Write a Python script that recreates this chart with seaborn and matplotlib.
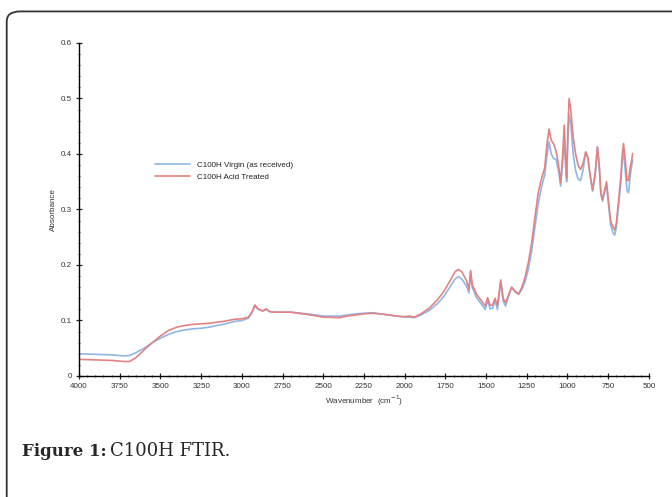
import numpy as np
import pandas as pd
import matplotlib
matplotlib.use("Agg")
import matplotlib.pyplot as plt
from matplotlib.patches import FancyBboxPatch
from matplotlib.ticker import MultipleLocator
import seaborn as sns

# wavenumber grid (cm-1)
wavenumber = [4000, 3900, 3800, 3720, 3690, 3650, 3600, 3550, 3500, 3450, 3400, 3350,
              3300, 3250, 3200, 3150, 3100, 3050, 3000, 2960, 2935, 2920, 2900, 2870,
              2850, 2830, 2800, 2700, 2600, 2500, 2400, 2350, 2300, 2250, 2200, 2150,
              2100, 2050, 2000, 1970, 1940, 1900, 1850, 1800, 1760, 1720, 1690, 1670,
              1650, 1620, 1605, 1595, 1585, 1560, 1530, 1505, 1490, 1475, 1460, 1445,
              1430, 1410, 1395, 1380, 1360, 1343, 1320, 1300, 1280, 1260, 1240, 1220,
              1200, 1180, 1160, 1140, 1125, 1113, 1100, 1085, 1070, 1055, 1042, 1030,
              1020, 1010, 1005, 998, 990, 980, 965, 950, 935, 920, 905, 888, 875, 860,
              846, 830, 816, 805, 795, 785, 772, 760, 750, 735, 720, 710, 700, 685,
              672, 663, 656, 645, 635, 625, 615, 605, 600]

# C100H Virgin (as received)
virgin = [0.040, 0.039, 0.038, 0.036, 0.037, 0.042, 0.050, 0.060, 0.068, 0.075, 0.080, 0.083,
          0.085, 0.086, 0.088, 0.091, 0.094, 0.098, 0.100, 0.104, 0.115, 0.126, 0.120, 0.117,
          0.120, 0.116, 0.115, 0.115, 0.112, 0.108, 0.108, 0.110, 0.112, 0.113, 0.114, 0.112,
          0.110, 0.108, 0.106, 0.106, 0.105, 0.110, 0.118, 0.130, 0.143, 0.161, 0.175, 0.179,
          0.175, 0.162, 0.150, 0.188, 0.160, 0.142, 0.130, 0.120, 0.137, 0.121, 0.122, 0.136,
          0.120, 0.170, 0.135, 0.126, 0.145, 0.160, 0.151, 0.147, 0.156, 0.170, 0.193, 0.225,
          0.268, 0.310, 0.340, 0.362, 0.400, 0.422, 0.400, 0.392, 0.390, 0.370, 0.342, 0.385,
          0.428, 0.370, 0.350, 0.420, 0.470, 0.455, 0.400, 0.370, 0.355, 0.352, 0.370, 0.402,
          0.393, 0.360, 0.333, 0.362, 0.412, 0.378, 0.328, 0.315, 0.332, 0.345, 0.315, 0.272,
          0.258, 0.254, 0.268, 0.310, 0.350, 0.390, 0.404, 0.370, 0.335, 0.330, 0.360, 0.380,
          0.389]

# C100H Acid Treated
acid = [0.030, 0.029, 0.028, 0.026, 0.026, 0.033, 0.047, 0.060, 0.072, 0.082, 0.088, 0.091,
        0.093, 0.094, 0.095, 0.097, 0.099, 0.102, 0.103, 0.106, 0.117, 0.128, 0.121, 0.117,
        0.121, 0.116, 0.115, 0.115, 0.111, 0.106, 0.105, 0.108, 0.110, 0.112, 0.113, 0.112,
        0.110, 0.108, 0.107, 0.108, 0.106, 0.112, 0.122, 0.137, 0.152, 0.172, 0.188, 0.192,
        0.188, 0.172, 0.156, 0.190, 0.165, 0.148, 0.136, 0.126, 0.141, 0.127, 0.128, 0.140,
        0.127, 0.173, 0.140, 0.132, 0.148, 0.160, 0.152, 0.148, 0.160, 0.178, 0.205, 0.240,
        0.285, 0.330, 0.355, 0.375, 0.420, 0.445, 0.425, 0.418, 0.405, 0.380, 0.348, 0.395,
        0.452, 0.380, 0.357, 0.440, 0.500, 0.480, 0.430, 0.400, 0.380, 0.372, 0.382, 0.404,
        0.395, 0.360, 0.335, 0.365, 0.413, 0.380, 0.330, 0.318, 0.335, 0.350, 0.320, 0.280,
        0.268, 0.263, 0.275, 0.320, 0.360, 0.400, 0.419, 0.390, 0.352, 0.353, 0.375, 0.390,
        0.401]

series_names = ["C100H Virgin (as received)", "C100H Acid Treated"]

df = pd.concat([
    pd.DataFrame({"wavenumber": wavenumber, "absorbance": virgin, "sample": series_names[0]}),
    pd.DataFrame({"wavenumber": wavenumber, "absorbance": acid, "sample": series_names[1]}),
])

sns.set_style("ticks")
plt.rcParams["font.family"] = ["Liberation Sans", "DejaVu Sans"]

fig = plt.figure(figsize=(6.72, 4.97), dpi=100)
ax = fig.add_axes([0.1176, 0.2435, 0.848, 0.670])

palette = {series_names[0]: "#8fb6e4", series_names[1]: "#e38282"}
sns.lineplot(data=df, x="wavenumber", y="absorbance", hue="sample", palette=palette,
             linewidth=1.2, sort=False, estimator=None, ax=ax)

ax.set_xlim(4000, 500)
ax.set_ylim(0, 0.6)
ax.xaxis.set_major_locator(MultipleLocator(250))
ax.xaxis.set_minor_locator(MultipleLocator(50))
ax.yaxis.set_major_locator(MultipleLocator(0.1))
ax.yaxis.set_minor_locator(MultipleLocator(0.02))
ax.yaxis.set_major_formatter(matplotlib.ticker.FuncFormatter(lambda v, p: "0" if v == 0 else f"{v:.1f}"))
ax.tick_params(which="major", direction="inout", length=4, width=0.9, labelsize=5.8,
               labelcolor="#333333", pad=3)
ax.tick_params(which="minor", direction="inout", length=2, width=0.6)
sns.despine(ax=ax)
for s in ["left", "bottom"]:
    ax.spines[s].set_linewidth(1.0)
    ax.spines[s].set_color("black")

ax.set_xlabel("Wavenumber  (cm$^{-1}$)", fontsize=5.8, color="#333333", labelpad=3)
ax.set_ylabel("Absorbance", fontsize=5.8, color="#333333", labelpad=3)

leg = ax.legend(loc="upper left", bbox_to_anchor=(0.133, 0.645), frameon=False,
                fontsize=5.8, handlelength=4.4, handletextpad=0.8, labelspacing=0.55,
                borderpad=0, borderaxespad=0)
for t in leg.get_texts():
    t.set_color("#222222")

# outer rounded frame
frame = FancyBboxPatch((0.010, -0.1), 1.1, 1.077, boxstyle="round,pad=0,rounding_size=0.02",
                       transform=fig.transFigure, fill=False, edgecolor="#333333",
                       linewidth=1.3, clip_on=False)
fig.patches.append(frame)

fig.text(0.032, 0.083, "Figure 1:", fontsize=12, fontweight="bold",
         family=["DejaVu Serif"], va="baseline")
fig.text(0.164, 0.083, "C100H FTIR.", fontsize=13, family=["DejaVu Serif"], va="baseline")

fig.savefig("out.png", dpi=100)
